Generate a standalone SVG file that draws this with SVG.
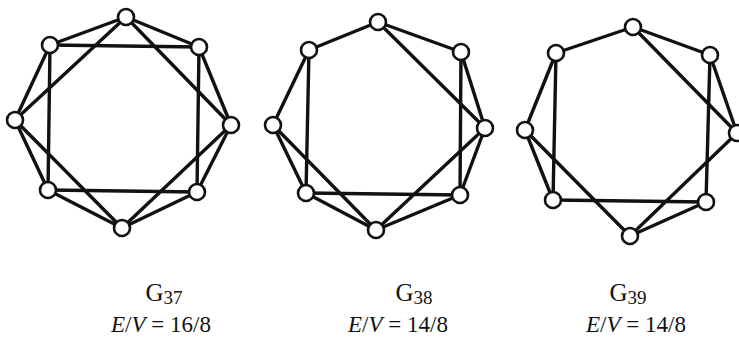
<svg xmlns="http://www.w3.org/2000/svg" width="739" height="349" viewBox="0 0 739 349">
<style>
.e{stroke:#111;stroke-width:3.4;stroke-linecap:round;fill:none}
.n{fill:#fff;stroke:#111;stroke-width:2.6}
.t{font-family:"Liberation Serif",serif;fill:#111}
.lab{font-size:25px}
.sub{font-size:19px}
.ev{font-size:23px}
</style>
<rect width="739" height="349" fill="#fff"/>
<g id="connectors">
<g id="g37-edges" class="e">
<line x1="126" y1="17" x2="50" y2="45"/>
<line x1="126" y1="17" x2="199" y2="47"/>
<line x1="199" y1="47" x2="231" y2="125"/>
<line x1="231" y1="125" x2="197" y2="192"/>
<line x1="197" y1="192" x2="122" y2="228"/>
<line x1="122" y1="228" x2="48" y2="190"/>
<line x1="48" y1="190" x2="15" y2="120"/>
<line x1="15" y1="120" x2="50" y2="45"/>
<line x1="50" y1="45" x2="199" y2="47"/>
<line x1="199" y1="47" x2="197" y2="192"/>
<line x1="197" y1="192" x2="48" y2="190"/>
<line x1="48" y1="190" x2="50" y2="45"/>
<line x1="126" y1="17" x2="15" y2="120"/>
<line x1="126" y1="17" x2="231" y2="125"/>
<line x1="15" y1="120" x2="122" y2="228"/>
<line x1="231" y1="125" x2="122" y2="228"/>
</g>
<g id="g38-edges" class="e">
<line x1="378" y1="22" x2="309" y2="50"/>
<line x1="378" y1="22" x2="461" y2="52"/>
<line x1="461" y1="52" x2="485" y2="128"/>
<line x1="485" y1="128" x2="460" y2="195"/>
<line x1="460" y1="195" x2="376" y2="230"/>
<line x1="376" y1="230" x2="306" y2="193"/>
<line x1="306" y1="193" x2="273" y2="125"/>
<line x1="273" y1="125" x2="309" y2="50"/>
<line x1="309" y1="50" x2="306" y2="193"/>
<line x1="461" y1="52" x2="460" y2="195"/>
<line x1="306" y1="193" x2="460" y2="195"/>
<line x1="378" y1="22" x2="485" y2="128"/>
<line x1="273" y1="125" x2="376" y2="230"/>
<line x1="485" y1="128" x2="376" y2="230"/>
</g>
<g id="g39-edges" class="e">
<line x1="633" y1="27" x2="556" y2="53"/>
<line x1="633" y1="27" x2="710" y2="55"/>
<line x1="633" y1="27" x2="737" y2="133"/>
<line x1="710" y1="55" x2="737" y2="133"/>
<line x1="710" y1="55" x2="706" y2="202"/>
<line x1="737" y1="133" x2="630" y2="236"/>
<line x1="706" y1="202" x2="630" y2="236"/>
<line x1="553" y1="200" x2="706" y2="202"/>
<line x1="525" y1="130" x2="553" y2="200"/>
<line x1="525" y1="130" x2="556" y2="53"/>
<line x1="556" y1="53" x2="553" y2="200"/>
<line x1="525" y1="130" x2="630" y2="236"/>
</g>
</g>
<g id="g37-nodes" class="n">
<circle id="g37-t" cx="126" cy="17" r="8"/>
<circle id="g37-ul" cx="50" cy="45" r="8"/>
<circle id="g37-ur" cx="199" cy="47" r="8"/>
<circle id="g37-l" cx="15" cy="120" r="8"/>
<circle id="g37-r" cx="231" cy="125" r="8"/>
<circle id="g37-ll" cx="48" cy="190" r="8"/>
<circle id="g37-lr" cx="197" cy="192" r="8"/>
<circle id="g37-b" cx="122" cy="228" r="8"/>
</g>
<g id="g38-nodes" class="n">
<circle id="g38-t" cx="378" cy="22" r="8"/>
<circle id="g38-ul" cx="309" cy="50" r="8"/>
<circle id="g38-ur" cx="461" cy="52" r="8"/>
<circle id="g38-l" cx="273" cy="125" r="8"/>
<circle id="g38-r" cx="485" cy="128" r="8"/>
<circle id="g38-ll" cx="306" cy="193" r="8"/>
<circle id="g38-lr" cx="460" cy="195" r="8"/>
<circle id="g38-b" cx="376" cy="230" r="8"/>
</g>
<g id="g39-nodes" class="n">
<circle id="g39-t" cx="633" cy="27" r="8"/>
<circle id="g39-ul" cx="556" cy="53" r="8"/>
<circle id="g39-ur" cx="710" cy="55" r="8"/>
<circle id="g39-l" cx="525" cy="130" r="8"/>
<circle id="g39-r" cx="737" cy="133" r="8"/>
<circle id="g39-ll" cx="553" cy="200" r="8"/>
<circle id="g39-lr" cx="706" cy="202" r="8"/>
<circle id="g39-b" cx="630" cy="236" r="8"/>
</g>
<g id="labels" class="t">
<text class="lab" x="164" y="301" text-anchor="middle">G<tspan class="sub" dy="3">37</tspan></text>
<text class="lab" x="414" y="301" text-anchor="middle">G<tspan class="sub" dy="3">38</tspan></text>
<text class="lab" x="628" y="301" text-anchor="middle">G<tspan class="sub" dy="3">39</tspan></text>
<text class="ev" x="161" y="332" text-anchor="middle"><tspan font-style="italic">E</tspan>/<tspan font-style="italic">V</tspan> = 16/8</text>
<text class="ev" x="398" y="332" text-anchor="middle"><tspan font-style="italic">E</tspan>/<tspan font-style="italic">V</tspan> = 14/8</text>
<text class="ev" x="636" y="332" text-anchor="middle"><tspan font-style="italic">E</tspan>/<tspan font-style="italic">V</tspan> = 14/8</text>
</g>
</svg>
